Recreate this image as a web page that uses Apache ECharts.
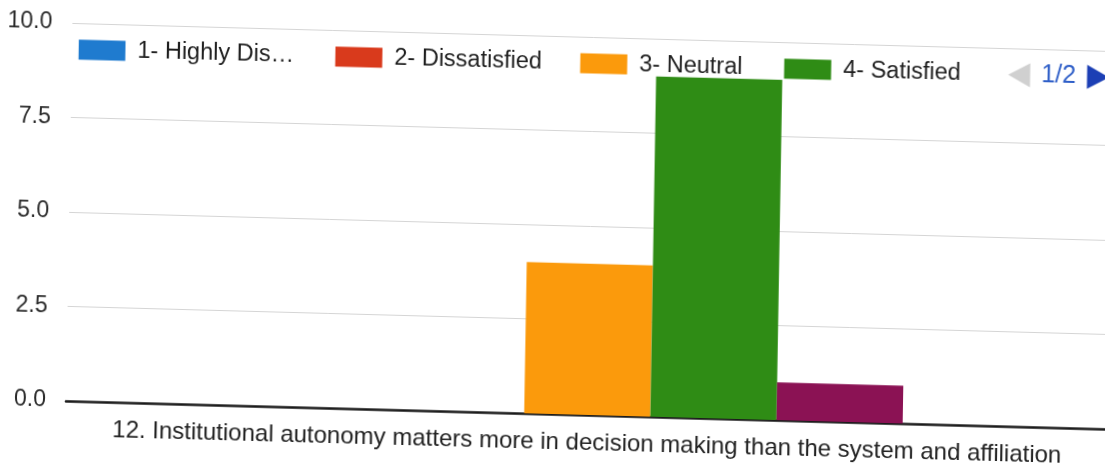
<!DOCTYPE html>
<html>
<head>
<meta charset="utf-8">
<script src="https://cdn.jsdelivr.net/npm/echarts@6/dist/echarts.min.js"></script>
<style>
html,body{margin:0;padding:0;background:#fff;overflow:hidden;width:1105px;height:473px;}
#chart{width:1117px;height:473px;transform:matrix(1,0.027,-0.017,1,0,0);transform-origin:552.5px 236.5px;}
</style>
</head>
<body>
<div id="chart"></div>
<script>
const categories = ['12. Institutional autonomy matters more in decision making than the system and affiliation'];
const seriesNames = ['1- Highly Dissatisfied', '2- Dissatisfied', '3- Neutral', '4- Satisfied', '5- Highly Satisfied'];
const seriesValues = [[0], [0], [4], [9], [1]];
const seriesColors = ['#1f7bcf', '#d93a1c', '#fb9a0c', '#2f8c15', '#8b1254'];
const yTicks = [0, 2.5, 5, 7.5, 10];

const FONT = 'Liberation Sans, Arial, sans-serif';
const LEGEND_FS = 23.5;
const ICON_W = 47, ICON_GAP = 5, TEXT_PAD_L = 7, ITEM_GAP = 10;
const legendSlots = [257, 245, 204, null, null];
const legendFixedPadR = [0, 0, 0, 12, 0];
const legendMaxText = [160, 999, 999, 999, 999];

const measureCtx = document.createElement('canvas').getContext('2d');
measureCtx.font = LEGEND_FS + 'px Liberation Sans';
function truncate(text, maxW) {
  if (measureCtx.measureText(text).width <= maxW) return text;
  const ell = '…';
  let t = text;
  while (t.length > 0 && measureCtx.measureText(t + ell).width > maxW) t = t.slice(0, -1);
  return t + ell;
}

const legendLabels = seriesNames.map((n, i) => truncate(n, legendMaxText[i]));
const rich = {};
legendLabels.forEach((t, i) => {
  const w = measureCtx.measureText(t).width;
  const padR = legendSlots[i] != null
    ? Math.max(0, legendSlots[i] - ICON_W - ICON_GAP - TEXT_PAD_L - ITEM_GAP - w)
    : legendFixedPadR[i];
  rich['s' + i] = {
    padding: [0, padR, 0, TEXT_PAD_L],
    backgroundColor: 'rgba(255,255,255,0)',
    fontSize: LEGEND_FS, fontFamily: FONT, color: '#1e1e1e'
  };
});

const chart = echarts.init(document.getElementById('chart'), null, {renderer: 'canvas'});
chart.setOption({
  backgroundColor: '#ffffff',
  animation: false,
  textStyle: {fontFamily: FONT},
  legend: {
    type: 'scroll',
    orient: 'horizontal',
    left: 75.5,
    width: 1031,
    top: 50,
    padding: 0,
    itemWidth: ICON_W,
    itemHeight: 20,
    itemGap: ITEM_GAP,
    icon: 'rect',
    textStyle: {fontSize: LEGEND_FS, color: '#1e1e1e', rich: rich},
    formatter: function (name) {
      const i = seriesNames.indexOf(name);
      return '{s' + i + '|' + legendLabels[i] + '}';
    },
    data: seriesNames,
    pageFormatter: '{current}/{total}',
    pageIcons: {horizontal: ['path://M0,12L22,0L22,24z', 'path://M22,12L0,0L0,24z']},
    pageIconColor: '#1c3fb5',
    pageIconInactiveColor: '#d0d0d0',
    pageIconSize: [22, 24],
    pageButtonItemGap: 0,
    pageButtonGap: 34,
    pageTextStyle: {color: '#2f5fc8', fontSize: 25}
  },
  grid: {left: 69, right: 5, top: 36, bottom: 59, containLabel: false},
  xAxis: {
    type: 'category',
    data: categories,
    axisLine: {show: true, lineStyle: {color: '#1a1a1a', width: 2.5}},
    axisTick: {show: false},
    axisLabel: {fontSize: 24, color: '#222', margin: 16}
  },
  yAxis: {
    type: 'value',
    min: yTicks[0],
    max: yTicks[yTicks.length - 1],
    interval: 2.5,
    axisLine: {show: false},
    axisTick: {show: false},
    splitLine: {lineStyle: {color: '#d5d5d5', width: 1}},
    axisLabel: {fontSize: 23, color: '#2a2a2a', margin: 20, formatter: v => v.toFixed(1)}
  },
  series: seriesNames.map((n, i) => ({
    name: n,
    type: 'bar',
    data: seriesValues[i],
    barGap: '0%',
    barCategoryGap: '39.5%',
    itemStyle: {color: seriesColors[i]}
  }))
});
</script>
</body>
</html>
